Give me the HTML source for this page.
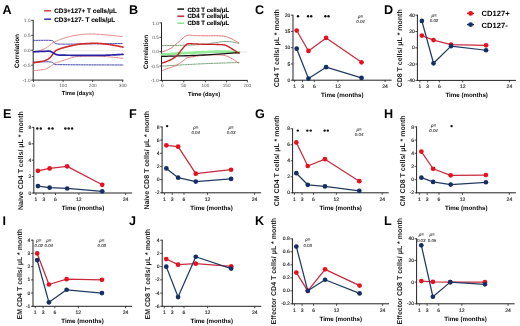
<!DOCTYPE html>
<html><head><meta charset="utf-8"><style>
html,body{margin:0;padding:0;background:#fff;width:520px;height:326px;overflow:hidden}
svg{display:block;filter:blur(0.25px)}
text{font-family:"Liberation Sans",sans-serif;text-rendering:geometricPrecision}
</style></head><body>
<svg width="520" height="326" viewBox="0 0 520 326">
<rect width="520" height="326" fill="#fff"/>
<line x1="293.00" y1="14.70" x2="293.00" y2="80.70" stroke="#222" stroke-width="1"/>
<line x1="292.50" y1="80.20" x2="391.60" y2="80.20" stroke="#222" stroke-width="1"/>
<line x1="291.00" y1="80.20" x2="293.00" y2="80.20" stroke="#222" stroke-width="0.8"/>
<text x="290.40" y="81.80" font-size="5.0" text-anchor="end" font-weight="normal" font-style="normal" fill="#262626" stroke="#262626" stroke-width="0.15">0</text>
<line x1="291.00" y1="63.95" x2="293.00" y2="63.95" stroke="#222" stroke-width="0.8"/>
<text x="290.40" y="65.55" font-size="5.0" text-anchor="end" font-weight="normal" font-style="normal" fill="#262626" stroke="#262626" stroke-width="0.15">5</text>
<line x1="291.00" y1="47.70" x2="293.00" y2="47.70" stroke="#222" stroke-width="0.8"/>
<text x="290.40" y="49.30" font-size="5.0" text-anchor="end" font-weight="normal" font-style="normal" fill="#262626" stroke="#262626" stroke-width="0.15">10</text>
<line x1="291.00" y1="31.45" x2="293.00" y2="31.45" stroke="#222" stroke-width="0.8"/>
<text x="290.40" y="33.05" font-size="5.0" text-anchor="end" font-weight="normal" font-style="normal" fill="#262626" stroke="#262626" stroke-width="0.15">15</text>
<line x1="291.00" y1="15.20" x2="293.00" y2="15.20" stroke="#222" stroke-width="0.8"/>
<text x="290.40" y="16.80" font-size="5.0" text-anchor="end" font-weight="normal" font-style="normal" fill="#262626" stroke="#262626" stroke-width="0.15">20</text>
<line x1="294.70" y1="80.20" x2="294.70" y2="82.20" stroke="#222" stroke-width="0.8"/>
<text x="294.70" y="88.20" font-size="5.0" text-anchor="middle" font-weight="normal" font-style="normal" fill="#262626" stroke="#262626" stroke-width="0.15">1</text>
<line x1="302.56" y1="80.20" x2="302.56" y2="82.20" stroke="#222" stroke-width="0.8"/>
<text x="302.56" y="88.20" font-size="5.0" text-anchor="middle" font-weight="normal" font-style="normal" fill="#262626" stroke="#262626" stroke-width="0.15">3</text>
<line x1="314.35" y1="80.20" x2="314.35" y2="82.20" stroke="#222" stroke-width="0.8"/>
<text x="314.35" y="88.20" font-size="5.0" text-anchor="middle" font-weight="normal" font-style="normal" fill="#262626" stroke="#262626" stroke-width="0.15">6</text>
<line x1="337.93" y1="80.20" x2="337.93" y2="82.20" stroke="#222" stroke-width="0.8"/>
<text x="337.93" y="88.20" font-size="5.0" text-anchor="middle" font-weight="normal" font-style="normal" fill="#262626" stroke="#262626" stroke-width="0.15">12</text>
<line x1="385.10" y1="80.20" x2="385.10" y2="82.20" stroke="#222" stroke-width="0.8"/>
<text x="385.10" y="88.20" font-size="5.0" text-anchor="middle" font-weight="normal" font-style="normal" fill="#262626" stroke="#262626" stroke-width="0.15">24</text>
<text x="342.30" y="97.20" font-size="6.2" text-anchor="middle" font-weight="bold" font-style="normal" fill="#000">Time (months)</text>
<text x="279.50" y="48.20" font-size="7.0" text-anchor="middle" font-weight="bold" font-style="normal" fill="#1e1e1e" transform="rotate(-90 279.5 48.2)">CD4 T cells/ μL * month</text>
<polyline points="296.67,30.48 308.46,50.95 326.14,37.95 361.52,62.33" fill="none" stroke="#c82a3c" stroke-width="1.25" stroke-linejoin="round" stroke-linecap="round"/>
<circle cx="296.67" cy="30.48" r="2.35" fill="#e8101f"/>
<circle cx="308.46" cy="50.95" r="2.35" fill="#e8101f"/>
<circle cx="326.14" cy="37.95" r="2.35" fill="#e8101f"/>
<circle cx="361.52" cy="62.33" r="2.35" fill="#e8101f"/>
<polyline points="296.67,48.68 308.46,78.58 326.14,67.20 361.52,77.92" fill="none" stroke="#213a64" stroke-width="1.25" stroke-linejoin="round" stroke-linecap="round"/>
<circle cx="296.67" cy="48.68" r="2.35" fill="#132f64"/>
<circle cx="308.46" cy="78.58" r="2.35" fill="#132f64"/>
<circle cx="326.14" cy="67.20" r="2.35" fill="#132f64"/>
<circle cx="361.52" cy="77.92" r="2.35" fill="#132f64"/>
<circle cx="298.00" cy="16.20" r="1.2" fill="#111"/>
<circle cx="308.10" cy="16.20" r="1.2" fill="#111"/>
<circle cx="311.20" cy="16.20" r="1.2" fill="#111"/>
<circle cx="325.40" cy="16.20" r="1.2" fill="#111"/>
<circle cx="328.50" cy="16.20" r="1.2" fill="#111"/>
<text x="360.50" y="17.50" font-size="4.4" text-anchor="middle" font-weight="normal" font-style="italic" fill="#333" stroke="#333" stroke-width="0.1">p=</text>
<text x="360.50" y="22.80" font-size="4.4" text-anchor="middle" font-weight="normal" font-style="italic" fill="#333" stroke="#333" stroke-width="0.1">0.04</text>
<text x="255.00" y="13.70" font-size="12.6" text-anchor="start" font-weight="bold" font-style="normal" fill="#000">C</text>
<line x1="417.40" y1="14.70" x2="417.40" y2="80.90" stroke="#222" stroke-width="1"/>
<line x1="416.90" y1="80.40" x2="515.90" y2="80.40" stroke="#222" stroke-width="1"/>
<line x1="415.40" y1="80.40" x2="417.40" y2="80.40" stroke="#222" stroke-width="0.8"/>
<text x="414.80" y="82.00" font-size="5.0" text-anchor="end" font-weight="normal" font-style="normal" fill="#262626" stroke="#262626" stroke-width="0.15">-40</text>
<line x1="415.40" y1="64.10" x2="417.40" y2="64.10" stroke="#222" stroke-width="0.8"/>
<text x="414.80" y="65.70" font-size="5.0" text-anchor="end" font-weight="normal" font-style="normal" fill="#262626" stroke="#262626" stroke-width="0.15">-20</text>
<line x1="415.40" y1="47.80" x2="417.40" y2="47.80" stroke="#222" stroke-width="0.8"/>
<text x="414.80" y="49.40" font-size="5.0" text-anchor="end" font-weight="normal" font-style="normal" fill="#262626" stroke="#262626" stroke-width="0.15">0</text>
<line x1="415.40" y1="31.50" x2="417.40" y2="31.50" stroke="#222" stroke-width="0.8"/>
<text x="414.80" y="33.10" font-size="5.0" text-anchor="end" font-weight="normal" font-style="normal" fill="#262626" stroke="#262626" stroke-width="0.15">20</text>
<line x1="415.40" y1="15.20" x2="417.40" y2="15.20" stroke="#222" stroke-width="0.8"/>
<text x="414.80" y="16.80" font-size="5.0" text-anchor="end" font-weight="normal" font-style="normal" fill="#262626" stroke="#262626" stroke-width="0.15">40</text>
<line x1="419.90" y1="80.40" x2="419.90" y2="82.40" stroke="#222" stroke-width="0.8"/>
<text x="419.90" y="88.40" font-size="5.0" text-anchor="middle" font-weight="normal" font-style="normal" fill="#262626" stroke="#262626" stroke-width="0.15">1</text>
<line x1="427.68" y1="80.40" x2="427.68" y2="82.40" stroke="#222" stroke-width="0.8"/>
<text x="427.68" y="88.40" font-size="5.0" text-anchor="middle" font-weight="normal" font-style="normal" fill="#262626" stroke="#262626" stroke-width="0.15">3</text>
<line x1="439.36" y1="80.40" x2="439.36" y2="82.40" stroke="#222" stroke-width="0.8"/>
<text x="439.36" y="88.40" font-size="5.0" text-anchor="middle" font-weight="normal" font-style="normal" fill="#262626" stroke="#262626" stroke-width="0.15">6</text>
<line x1="462.70" y1="80.40" x2="462.70" y2="82.40" stroke="#222" stroke-width="0.8"/>
<text x="462.70" y="88.40" font-size="5.0" text-anchor="middle" font-weight="normal" font-style="normal" fill="#262626" stroke="#262626" stroke-width="0.15">12</text>
<line x1="509.40" y1="80.40" x2="509.40" y2="82.40" stroke="#222" stroke-width="0.8"/>
<text x="509.40" y="88.40" font-size="5.0" text-anchor="middle" font-weight="normal" font-style="normal" fill="#262626" stroke="#262626" stroke-width="0.15">24</text>
<text x="466.65" y="97.40" font-size="6.2" text-anchor="middle" font-weight="bold" font-style="normal" fill="#000">Time (months)</text>
<text x="402.30" y="48.30" font-size="7.0" text-anchor="middle" font-weight="bold" font-style="normal" fill="#1e1e1e" transform="rotate(-90 402.29999999999995 48.300000000000004)">CD8 T cells/ μL * month</text>
<polyline points="421.85,35.58 433.52,40.06 451.03,44.54 486.05,45.36" fill="none" stroke="#c82a3c" stroke-width="1.25" stroke-linejoin="round" stroke-linecap="round"/>
<circle cx="421.85" cy="35.58" r="2.35" fill="#e8101f"/>
<circle cx="433.52" cy="40.06" r="2.35" fill="#e8101f"/>
<circle cx="451.03" cy="44.54" r="2.35" fill="#e8101f"/>
<circle cx="486.05" cy="45.36" r="2.35" fill="#e8101f"/>
<polyline points="421.85,20.91 433.52,63.29 451.03,46.17 486.05,50.25" fill="none" stroke="#213a64" stroke-width="1.25" stroke-linejoin="round" stroke-linecap="round"/>
<circle cx="421.85" cy="20.91" r="2.35" fill="#132f64"/>
<circle cx="433.52" cy="63.29" r="2.35" fill="#132f64"/>
<circle cx="451.03" cy="46.17" r="2.35" fill="#132f64"/>
<circle cx="486.05" cy="50.25" r="2.35" fill="#132f64"/>
<text x="434.00" y="17.00" font-size="4.4" text-anchor="middle" font-weight="normal" font-style="italic" fill="#333" stroke="#333" stroke-width="0.1">p=</text>
<text x="434.00" y="22.30" font-size="4.4" text-anchor="middle" font-weight="normal" font-style="italic" fill="#333" stroke="#333" stroke-width="0.1">0.02</text>
<text x="384.00" y="13.70" font-size="12.6" text-anchor="start" font-weight="bold" font-style="normal" fill="#000">D</text>
<line x1="33.80" y1="126.90" x2="33.80" y2="193.50" stroke="#222" stroke-width="1"/>
<line x1="33.30" y1="193.00" x2="132.10" y2="193.00" stroke="#222" stroke-width="1"/>
<line x1="31.80" y1="193.00" x2="33.80" y2="193.00" stroke="#222" stroke-width="0.8"/>
<text x="31.20" y="194.60" font-size="5.0" text-anchor="end" font-weight="normal" font-style="normal" fill="#262626" stroke="#262626" stroke-width="0.15">0</text>
<line x1="31.80" y1="176.60" x2="33.80" y2="176.60" stroke="#222" stroke-width="0.8"/>
<text x="31.20" y="178.20" font-size="5.0" text-anchor="end" font-weight="normal" font-style="normal" fill="#262626" stroke="#262626" stroke-width="0.15">2</text>
<line x1="31.80" y1="160.20" x2="33.80" y2="160.20" stroke="#222" stroke-width="0.8"/>
<text x="31.20" y="161.80" font-size="5.0" text-anchor="end" font-weight="normal" font-style="normal" fill="#262626" stroke="#262626" stroke-width="0.15">4</text>
<line x1="31.80" y1="143.80" x2="33.80" y2="143.80" stroke="#222" stroke-width="0.8"/>
<text x="31.20" y="145.40" font-size="5.0" text-anchor="end" font-weight="normal" font-style="normal" fill="#262626" stroke="#262626" stroke-width="0.15">6</text>
<line x1="31.80" y1="127.40" x2="33.80" y2="127.40" stroke="#222" stroke-width="0.8"/>
<text x="31.20" y="129.00" font-size="5.0" text-anchor="end" font-weight="normal" font-style="normal" fill="#262626" stroke="#262626" stroke-width="0.15">8</text>
<line x1="36.00" y1="193.00" x2="36.00" y2="195.00" stroke="#222" stroke-width="0.8"/>
<text x="36.00" y="201.00" font-size="5.0" text-anchor="middle" font-weight="normal" font-style="normal" fill="#262626" stroke="#262626" stroke-width="0.15">1</text>
<line x1="43.79" y1="193.00" x2="43.79" y2="195.00" stroke="#222" stroke-width="0.8"/>
<text x="43.79" y="201.00" font-size="5.0" text-anchor="middle" font-weight="normal" font-style="normal" fill="#262626" stroke="#262626" stroke-width="0.15">3</text>
<line x1="55.48" y1="193.00" x2="55.48" y2="195.00" stroke="#222" stroke-width="0.8"/>
<text x="55.48" y="201.00" font-size="5.0" text-anchor="middle" font-weight="normal" font-style="normal" fill="#262626" stroke="#262626" stroke-width="0.15">6</text>
<line x1="78.85" y1="193.00" x2="78.85" y2="195.00" stroke="#222" stroke-width="0.8"/>
<text x="78.85" y="201.00" font-size="5.0" text-anchor="middle" font-weight="normal" font-style="normal" fill="#262626" stroke="#262626" stroke-width="0.15">12</text>
<line x1="125.60" y1="193.00" x2="125.60" y2="195.00" stroke="#222" stroke-width="0.8"/>
<text x="125.60" y="201.00" font-size="5.0" text-anchor="middle" font-weight="normal" font-style="normal" fill="#262626" stroke="#262626" stroke-width="0.15">24</text>
<text x="82.95" y="210.00" font-size="6.2" text-anchor="middle" font-weight="bold" font-style="normal" fill="#000">Time (months)</text>
<text x="23.30" y="160.60" font-size="7.0" text-anchor="middle" font-weight="bold" font-style="normal" fill="#1e1e1e" transform="rotate(-90 23.299999999999997 160.6)">Naive CD4 T cells/ μL * month</text>
<polyline points="37.95,170.86 49.63,168.40 67.17,166.35 102.23,184.80" fill="none" stroke="#c82a3c" stroke-width="1.25" stroke-linejoin="round" stroke-linecap="round"/>
<circle cx="37.95" cy="170.86" r="2.35" fill="#e8101f"/>
<circle cx="49.63" cy="168.40" r="2.35" fill="#e8101f"/>
<circle cx="67.17" cy="166.35" r="2.35" fill="#e8101f"/>
<circle cx="102.23" cy="184.80" r="2.35" fill="#e8101f"/>
<polyline points="37.95,186.03 49.63,187.67 67.17,188.49 102.23,191.36" fill="none" stroke="#213a64" stroke-width="1.25" stroke-linejoin="round" stroke-linecap="round"/>
<circle cx="37.95" cy="186.03" r="2.35" fill="#132f64"/>
<circle cx="49.63" cy="187.67" r="2.35" fill="#132f64"/>
<circle cx="67.17" cy="188.49" r="2.35" fill="#132f64"/>
<circle cx="102.23" cy="191.36" r="2.35" fill="#132f64"/>
<circle cx="37.30" cy="128.50" r="1.2" fill="#111"/>
<circle cx="40.80" cy="128.50" r="1.2" fill="#111"/>
<circle cx="49.00" cy="128.50" r="1.2" fill="#111"/>
<circle cx="52.50" cy="128.50" r="1.2" fill="#111"/>
<circle cx="65.40" cy="128.50" r="1.2" fill="#111"/>
<circle cx="68.70" cy="128.50" r="1.2" fill="#111"/>
<circle cx="72.10" cy="128.50" r="1.2" fill="#111"/>
<text x="3.00" y="118.40" font-size="12.6" text-anchor="start" font-weight="bold" font-style="normal" fill="#000">E</text>
<line x1="162.10" y1="126.40" x2="162.10" y2="193.30" stroke="#222" stroke-width="1"/>
<line x1="161.60" y1="192.80" x2="261.10" y2="192.80" stroke="#222" stroke-width="1"/>
<line x1="160.10" y1="192.80" x2="162.10" y2="192.80" stroke="#222" stroke-width="0.8"/>
<text x="159.50" y="194.40" font-size="5.0" text-anchor="end" font-weight="normal" font-style="normal" fill="#262626" stroke="#262626" stroke-width="0.15">-2</text>
<line x1="160.10" y1="179.62" x2="162.10" y2="179.62" stroke="#222" stroke-width="0.8"/>
<text x="159.50" y="181.22" font-size="5.0" text-anchor="end" font-weight="normal" font-style="normal" fill="#262626" stroke="#262626" stroke-width="0.15">0</text>
<line x1="160.10" y1="166.44" x2="162.10" y2="166.44" stroke="#222" stroke-width="0.8"/>
<text x="159.50" y="168.04" font-size="5.0" text-anchor="end" font-weight="normal" font-style="normal" fill="#262626" stroke="#262626" stroke-width="0.15">2</text>
<line x1="160.10" y1="153.26" x2="162.10" y2="153.26" stroke="#222" stroke-width="0.8"/>
<text x="159.50" y="154.86" font-size="5.0" text-anchor="end" font-weight="normal" font-style="normal" fill="#262626" stroke="#262626" stroke-width="0.15">4</text>
<line x1="160.10" y1="140.08" x2="162.10" y2="140.08" stroke="#222" stroke-width="0.8"/>
<text x="159.50" y="141.68" font-size="5.0" text-anchor="end" font-weight="normal" font-style="normal" fill="#262626" stroke="#262626" stroke-width="0.15">6</text>
<line x1="160.10" y1="126.90" x2="162.10" y2="126.90" stroke="#222" stroke-width="0.8"/>
<text x="159.50" y="128.50" font-size="5.0" text-anchor="end" font-weight="normal" font-style="normal" fill="#262626" stroke="#262626" stroke-width="0.15">8</text>
<line x1="164.40" y1="192.80" x2="164.40" y2="194.80" stroke="#222" stroke-width="0.8"/>
<text x="164.40" y="200.80" font-size="5.0" text-anchor="middle" font-weight="normal" font-style="normal" fill="#262626" stroke="#262626" stroke-width="0.15">1</text>
<line x1="172.24" y1="192.80" x2="172.24" y2="194.80" stroke="#222" stroke-width="0.8"/>
<text x="172.24" y="200.80" font-size="5.0" text-anchor="middle" font-weight="normal" font-style="normal" fill="#262626" stroke="#262626" stroke-width="0.15">3</text>
<line x1="184.01" y1="192.80" x2="184.01" y2="194.80" stroke="#222" stroke-width="0.8"/>
<text x="184.01" y="200.80" font-size="5.0" text-anchor="middle" font-weight="normal" font-style="normal" fill="#262626" stroke="#262626" stroke-width="0.15">6</text>
<line x1="207.54" y1="192.80" x2="207.54" y2="194.80" stroke="#222" stroke-width="0.8"/>
<text x="207.54" y="200.80" font-size="5.0" text-anchor="middle" font-weight="normal" font-style="normal" fill="#262626" stroke="#262626" stroke-width="0.15">12</text>
<line x1="254.60" y1="192.80" x2="254.60" y2="194.80" stroke="#222" stroke-width="0.8"/>
<text x="254.60" y="200.80" font-size="5.0" text-anchor="middle" font-weight="normal" font-style="normal" fill="#262626" stroke="#262626" stroke-width="0.15">24</text>
<text x="211.60" y="209.80" font-size="6.2" text-anchor="middle" font-weight="bold" font-style="normal" fill="#000">Time (months)</text>
<text x="148.80" y="160.25" font-size="7.0" text-anchor="middle" font-weight="bold" font-style="normal" fill="#1e1e1e" transform="rotate(-90 148.79999999999998 160.25000000000003)">Naive CD8 T cells/ μL * month</text>
<polyline points="166.36,145.35 178.13,146.67 195.77,173.69 231.07,169.74" fill="none" stroke="#c82a3c" stroke-width="1.25" stroke-linejoin="round" stroke-linecap="round"/>
<circle cx="166.36" cy="145.35" r="2.35" fill="#e8101f"/>
<circle cx="178.13" cy="146.67" r="2.35" fill="#e8101f"/>
<circle cx="195.77" cy="173.69" r="2.35" fill="#e8101f"/>
<circle cx="231.07" cy="169.74" r="2.35" fill="#e8101f"/>
<polyline points="166.36,168.42 178.13,177.64 195.77,181.60 231.07,178.96" fill="none" stroke="#213a64" stroke-width="1.25" stroke-linejoin="round" stroke-linecap="round"/>
<circle cx="166.36" cy="168.42" r="2.35" fill="#132f64"/>
<circle cx="178.13" cy="177.64" r="2.35" fill="#132f64"/>
<circle cx="195.77" cy="181.60" r="2.35" fill="#132f64"/>
<circle cx="231.07" cy="178.96" r="2.35" fill="#132f64"/>
<circle cx="167.10" cy="126.10" r="1.2" fill="#111"/>
<text x="195.70" y="128.50" font-size="4.4" text-anchor="middle" font-weight="normal" font-style="italic" fill="#333" stroke="#333" stroke-width="0.1">p=</text>
<text x="195.70" y="133.80" font-size="4.4" text-anchor="middle" font-weight="normal" font-style="italic" fill="#333" stroke="#333" stroke-width="0.1">0.04</text>
<text x="231.10" y="128.50" font-size="4.4" text-anchor="middle" font-weight="normal" font-style="italic" fill="#333" stroke="#333" stroke-width="0.1">p=</text>
<text x="231.10" y="133.80" font-size="4.4" text-anchor="middle" font-weight="normal" font-style="italic" fill="#333" stroke="#333" stroke-width="0.1">0.03</text>
<text x="129.00" y="118.10" font-size="12.6" text-anchor="start" font-weight="bold" font-style="normal" fill="#000">F</text>
<line x1="292.60" y1="128.30" x2="292.60" y2="193.30" stroke="#222" stroke-width="1"/>
<line x1="292.10" y1="192.80" x2="388.70" y2="192.80" stroke="#222" stroke-width="1"/>
<line x1="290.60" y1="192.80" x2="292.60" y2="192.80" stroke="#222" stroke-width="0.8"/>
<text x="290.00" y="194.40" font-size="5.0" text-anchor="end" font-weight="normal" font-style="normal" fill="#262626" stroke="#262626" stroke-width="0.15">0</text>
<line x1="290.60" y1="176.80" x2="292.60" y2="176.80" stroke="#222" stroke-width="0.8"/>
<text x="290.00" y="178.40" font-size="5.0" text-anchor="end" font-weight="normal" font-style="normal" fill="#262626" stroke="#262626" stroke-width="0.15">2</text>
<line x1="290.60" y1="160.80" x2="292.60" y2="160.80" stroke="#222" stroke-width="0.8"/>
<text x="290.00" y="162.40" font-size="5.0" text-anchor="end" font-weight="normal" font-style="normal" fill="#262626" stroke="#262626" stroke-width="0.15">4</text>
<line x1="290.60" y1="144.80" x2="292.60" y2="144.80" stroke="#222" stroke-width="0.8"/>
<text x="290.00" y="146.40" font-size="5.0" text-anchor="end" font-weight="normal" font-style="normal" fill="#262626" stroke="#262626" stroke-width="0.15">6</text>
<line x1="290.60" y1="128.80" x2="292.60" y2="128.80" stroke="#222" stroke-width="0.8"/>
<text x="290.00" y="130.40" font-size="5.0" text-anchor="end" font-weight="normal" font-style="normal" fill="#262626" stroke="#262626" stroke-width="0.15">8</text>
<line x1="294.40" y1="192.80" x2="294.40" y2="194.80" stroke="#222" stroke-width="0.8"/>
<text x="294.40" y="200.80" font-size="5.0" text-anchor="middle" font-weight="normal" font-style="normal" fill="#262626" stroke="#262626" stroke-width="0.15">1</text>
<line x1="302.03" y1="192.80" x2="302.03" y2="194.80" stroke="#222" stroke-width="0.8"/>
<text x="302.03" y="200.80" font-size="5.0" text-anchor="middle" font-weight="normal" font-style="normal" fill="#262626" stroke="#262626" stroke-width="0.15">3</text>
<line x1="313.49" y1="192.80" x2="313.49" y2="194.80" stroke="#222" stroke-width="0.8"/>
<text x="313.49" y="200.80" font-size="5.0" text-anchor="middle" font-weight="normal" font-style="normal" fill="#262626" stroke="#262626" stroke-width="0.15">6</text>
<line x1="336.39" y1="192.80" x2="336.39" y2="194.80" stroke="#222" stroke-width="0.8"/>
<text x="336.39" y="200.80" font-size="5.0" text-anchor="middle" font-weight="normal" font-style="normal" fill="#262626" stroke="#262626" stroke-width="0.15">12</text>
<line x1="382.20" y1="192.80" x2="382.20" y2="194.80" stroke="#222" stroke-width="0.8"/>
<text x="382.20" y="200.80" font-size="5.0" text-anchor="middle" font-weight="normal" font-style="normal" fill="#262626" stroke="#262626" stroke-width="0.15">24</text>
<text x="340.65" y="209.80" font-size="6.2" text-anchor="middle" font-weight="bold" font-style="normal" fill="#000">Time (months)</text>
<text x="279.10" y="160.80" font-size="7.0" text-anchor="middle" font-weight="bold" font-style="normal" fill="#1e1e1e" transform="rotate(-90 279.1 160.8)">CM CD4 T cells/ μL * month</text>
<polyline points="296.31,142.40 307.76,166.00 324.94,159.20 359.30,181.20" fill="none" stroke="#c82a3c" stroke-width="1.25" stroke-linejoin="round" stroke-linecap="round"/>
<circle cx="296.31" cy="142.40" r="2.35" fill="#e8101f"/>
<circle cx="307.76" cy="166.00" r="2.35" fill="#e8101f"/>
<circle cx="324.94" cy="159.20" r="2.35" fill="#e8101f"/>
<circle cx="359.30" cy="181.20" r="2.35" fill="#e8101f"/>
<polyline points="296.31,173.20 307.76,184.80 324.94,186.40 359.30,190.80" fill="none" stroke="#213a64" stroke-width="1.25" stroke-linejoin="round" stroke-linecap="round"/>
<circle cx="296.31" cy="173.20" r="2.35" fill="#132f64"/>
<circle cx="307.76" cy="184.80" r="2.35" fill="#132f64"/>
<circle cx="324.94" cy="186.40" r="2.35" fill="#132f64"/>
<circle cx="359.30" cy="190.80" r="2.35" fill="#132f64"/>
<circle cx="297.80" cy="130.60" r="1.2" fill="#111"/>
<circle cx="307.30" cy="130.60" r="1.2" fill="#111"/>
<circle cx="310.70" cy="130.60" r="1.2" fill="#111"/>
<circle cx="324.60" cy="130.60" r="1.2" fill="#111"/>
<circle cx="327.80" cy="130.60" r="1.2" fill="#111"/>
<text x="359.10" y="130.80" font-size="4.4" text-anchor="middle" font-weight="normal" font-style="italic" fill="#333" stroke="#333" stroke-width="0.1">p=</text>
<text x="359.10" y="136.10" font-size="4.4" text-anchor="middle" font-weight="normal" font-style="italic" fill="#333" stroke="#333" stroke-width="0.1">0.04</text>
<text x="255.00" y="118.40" font-size="12.6" text-anchor="start" font-weight="bold" font-style="normal" fill="#000">G</text>
<line x1="416.60" y1="126.40" x2="416.60" y2="193.30" stroke="#222" stroke-width="1"/>
<line x1="416.10" y1="192.80" x2="515.90" y2="192.80" stroke="#222" stroke-width="1"/>
<line x1="414.60" y1="192.80" x2="416.60" y2="192.80" stroke="#222" stroke-width="0.8"/>
<text x="414.00" y="194.40" font-size="5.0" text-anchor="end" font-weight="normal" font-style="normal" fill="#262626" stroke="#262626" stroke-width="0.15">-2</text>
<line x1="414.60" y1="179.62" x2="416.60" y2="179.62" stroke="#222" stroke-width="0.8"/>
<text x="414.00" y="181.22" font-size="5.0" text-anchor="end" font-weight="normal" font-style="normal" fill="#262626" stroke="#262626" stroke-width="0.15">0</text>
<line x1="414.60" y1="166.44" x2="416.60" y2="166.44" stroke="#222" stroke-width="0.8"/>
<text x="414.00" y="168.04" font-size="5.0" text-anchor="end" font-weight="normal" font-style="normal" fill="#262626" stroke="#262626" stroke-width="0.15">2</text>
<line x1="414.60" y1="153.26" x2="416.60" y2="153.26" stroke="#222" stroke-width="0.8"/>
<text x="414.00" y="154.86" font-size="5.0" text-anchor="end" font-weight="normal" font-style="normal" fill="#262626" stroke="#262626" stroke-width="0.15">4</text>
<line x1="414.60" y1="140.08" x2="416.60" y2="140.08" stroke="#222" stroke-width="0.8"/>
<text x="414.00" y="141.68" font-size="5.0" text-anchor="end" font-weight="normal" font-style="normal" fill="#262626" stroke="#262626" stroke-width="0.15">6</text>
<line x1="414.60" y1="126.90" x2="416.60" y2="126.90" stroke="#222" stroke-width="0.8"/>
<text x="414.00" y="128.50" font-size="5.0" text-anchor="end" font-weight="normal" font-style="normal" fill="#262626" stroke="#262626" stroke-width="0.15">8</text>
<line x1="419.40" y1="192.80" x2="419.40" y2="194.80" stroke="#222" stroke-width="0.8"/>
<text x="419.40" y="200.80" font-size="5.0" text-anchor="middle" font-weight="normal" font-style="normal" fill="#262626" stroke="#262626" stroke-width="0.15">1</text>
<line x1="427.23" y1="192.80" x2="427.23" y2="194.80" stroke="#222" stroke-width="0.8"/>
<text x="427.23" y="200.80" font-size="5.0" text-anchor="middle" font-weight="normal" font-style="normal" fill="#262626" stroke="#262626" stroke-width="0.15">3</text>
<line x1="438.97" y1="192.80" x2="438.97" y2="194.80" stroke="#222" stroke-width="0.8"/>
<text x="438.97" y="200.80" font-size="5.0" text-anchor="middle" font-weight="normal" font-style="normal" fill="#262626" stroke="#262626" stroke-width="0.15">6</text>
<line x1="462.44" y1="192.80" x2="462.44" y2="194.80" stroke="#222" stroke-width="0.8"/>
<text x="462.44" y="200.80" font-size="5.0" text-anchor="middle" font-weight="normal" font-style="normal" fill="#262626" stroke="#262626" stroke-width="0.15">12</text>
<line x1="509.40" y1="192.80" x2="509.40" y2="194.80" stroke="#222" stroke-width="0.8"/>
<text x="509.40" y="200.80" font-size="5.0" text-anchor="middle" font-weight="normal" font-style="normal" fill="#262626" stroke="#262626" stroke-width="0.15">24</text>
<text x="466.25" y="209.80" font-size="6.2" text-anchor="middle" font-weight="bold" font-style="normal" fill="#000">Time (months)</text>
<text x="405.20" y="160.80" font-size="7.0" text-anchor="middle" font-weight="bold" font-style="normal" fill="#1e1e1e" transform="rotate(-90 405.20000000000005 160.8)">CM CD8 T cells/ μL * month</text>
<polyline points="421.36,151.61 433.10,168.75 450.70,175.34 485.92,175.01" fill="none" stroke="#c82a3c" stroke-width="1.25" stroke-linejoin="round" stroke-linecap="round"/>
<circle cx="421.36" cy="151.61" r="2.35" fill="#e8101f"/>
<circle cx="433.10" cy="168.75" r="2.35" fill="#e8101f"/>
<circle cx="450.70" cy="175.34" r="2.35" fill="#e8101f"/>
<circle cx="485.92" cy="175.01" r="2.35" fill="#e8101f"/>
<polyline points="421.36,177.64 433.10,181.93 450.70,184.56 485.92,182.26" fill="none" stroke="#213a64" stroke-width="1.25" stroke-linejoin="round" stroke-linecap="round"/>
<circle cx="421.36" cy="177.64" r="2.35" fill="#132f64"/>
<circle cx="433.10" cy="181.93" r="2.35" fill="#132f64"/>
<circle cx="450.70" cy="184.56" r="2.35" fill="#132f64"/>
<circle cx="485.92" cy="182.26" r="2.35" fill="#132f64"/>
<text x="433.50" y="127.00" font-size="4.4" text-anchor="middle" font-weight="normal" font-style="italic" fill="#333" stroke="#333" stroke-width="0.1">p=</text>
<text x="433.50" y="132.30" font-size="4.4" text-anchor="middle" font-weight="normal" font-style="italic" fill="#333" stroke="#333" stroke-width="0.1">0.04</text>
<circle cx="451.60" cy="126.10" r="1.2" fill="#111"/>
<text x="384.00" y="118.00" font-size="12.6" text-anchor="start" font-weight="bold" font-style="normal" fill="#000">H</text>
<line x1="33.00" y1="239.70" x2="33.00" y2="306.80" stroke="#222" stroke-width="1"/>
<line x1="32.50" y1="306.30" x2="132.00" y2="306.30" stroke="#222" stroke-width="1"/>
<line x1="31.00" y1="306.30" x2="33.00" y2="306.30" stroke="#222" stroke-width="0.8"/>
<text x="30.40" y="307.90" font-size="5.0" text-anchor="end" font-weight="normal" font-style="normal" fill="#262626" stroke="#262626" stroke-width="0.15">-1</text>
<line x1="31.00" y1="293.08" x2="33.00" y2="293.08" stroke="#222" stroke-width="0.8"/>
<text x="30.40" y="294.68" font-size="5.0" text-anchor="end" font-weight="normal" font-style="normal" fill="#262626" stroke="#262626" stroke-width="0.15">0</text>
<line x1="31.00" y1="279.86" x2="33.00" y2="279.86" stroke="#222" stroke-width="0.8"/>
<text x="30.40" y="281.46" font-size="5.0" text-anchor="end" font-weight="normal" font-style="normal" fill="#262626" stroke="#262626" stroke-width="0.15">1</text>
<line x1="31.00" y1="266.64" x2="33.00" y2="266.64" stroke="#222" stroke-width="0.8"/>
<text x="30.40" y="268.24" font-size="5.0" text-anchor="end" font-weight="normal" font-style="normal" fill="#262626" stroke="#262626" stroke-width="0.15">2</text>
<line x1="31.00" y1="253.42" x2="33.00" y2="253.42" stroke="#222" stroke-width="0.8"/>
<text x="30.40" y="255.02" font-size="5.0" text-anchor="end" font-weight="normal" font-style="normal" fill="#262626" stroke="#262626" stroke-width="0.15">3</text>
<line x1="31.00" y1="240.20" x2="33.00" y2="240.20" stroke="#222" stroke-width="0.8"/>
<text x="30.40" y="241.80" font-size="5.0" text-anchor="end" font-weight="normal" font-style="normal" fill="#262626" stroke="#262626" stroke-width="0.15">4</text>
<line x1="35.20" y1="306.30" x2="35.20" y2="308.30" stroke="#222" stroke-width="0.8"/>
<text x="35.20" y="314.30" font-size="5.0" text-anchor="middle" font-weight="normal" font-style="normal" fill="#262626" stroke="#262626" stroke-width="0.15">1</text>
<line x1="43.05" y1="306.30" x2="43.05" y2="308.30" stroke="#222" stroke-width="0.8"/>
<text x="43.05" y="314.30" font-size="5.0" text-anchor="middle" font-weight="normal" font-style="normal" fill="#262626" stroke="#262626" stroke-width="0.15">3</text>
<line x1="54.83" y1="306.30" x2="54.83" y2="308.30" stroke="#222" stroke-width="0.8"/>
<text x="54.83" y="314.30" font-size="5.0" text-anchor="middle" font-weight="normal" font-style="normal" fill="#262626" stroke="#262626" stroke-width="0.15">6</text>
<line x1="78.39" y1="306.30" x2="78.39" y2="308.30" stroke="#222" stroke-width="0.8"/>
<text x="78.39" y="314.30" font-size="5.0" text-anchor="middle" font-weight="normal" font-style="normal" fill="#262626" stroke="#262626" stroke-width="0.15">12</text>
<line x1="125.50" y1="306.30" x2="125.50" y2="308.30" stroke="#222" stroke-width="0.8"/>
<text x="125.50" y="314.30" font-size="5.0" text-anchor="middle" font-weight="normal" font-style="normal" fill="#262626" stroke="#262626" stroke-width="0.15">24</text>
<text x="82.50" y="323.30" font-size="6.2" text-anchor="middle" font-weight="bold" font-style="normal" fill="#000">Time (months)</text>
<text x="21.70" y="274.20" font-size="7.0" text-anchor="middle" font-weight="bold" font-style="normal" fill="#1e1e1e" transform="rotate(-90 21.7 274.2)">EM CD4 T cells/ μL * month</text>
<polyline points="37.16,253.42 48.94,284.49 66.61,279.20 101.94,279.86" fill="none" stroke="#c82a3c" stroke-width="1.25" stroke-linejoin="round" stroke-linecap="round"/>
<circle cx="37.16" cy="253.42" r="2.35" fill="#e8101f"/>
<circle cx="48.94" cy="284.49" r="2.35" fill="#e8101f"/>
<circle cx="66.61" cy="279.20" r="2.35" fill="#e8101f"/>
<circle cx="101.94" cy="279.86" r="2.35" fill="#e8101f"/>
<polyline points="37.16,260.03 48.94,302.33 66.61,289.77 101.94,293.08" fill="none" stroke="#213a64" stroke-width="1.25" stroke-linejoin="round" stroke-linecap="round"/>
<circle cx="37.16" cy="260.03" r="2.35" fill="#132f64"/>
<circle cx="48.94" cy="302.33" r="2.35" fill="#132f64"/>
<circle cx="66.61" cy="289.77" r="2.35" fill="#132f64"/>
<circle cx="101.94" cy="293.08" r="2.35" fill="#132f64"/>
<text x="38.80" y="241.80" font-size="4.4" text-anchor="middle" font-weight="normal" font-style="italic" fill="#333" stroke="#333" stroke-width="0.1">p=</text>
<text x="38.80" y="247.10" font-size="4.4" text-anchor="middle" font-weight="normal" font-style="italic" fill="#333" stroke="#333" stroke-width="0.1">0.02</text>
<text x="48.80" y="241.80" font-size="4.4" text-anchor="middle" font-weight="normal" font-style="italic" fill="#333" stroke="#333" stroke-width="0.1">p=</text>
<text x="48.80" y="247.10" font-size="4.4" text-anchor="middle" font-weight="normal" font-style="italic" fill="#333" stroke="#333" stroke-width="0.1">0.04</text>
<text x="101.80" y="241.80" font-size="4.4" text-anchor="middle" font-weight="normal" font-style="italic" fill="#333" stroke="#333" stroke-width="0.1">p=</text>
<text x="101.80" y="247.10" font-size="4.4" text-anchor="middle" font-weight="normal" font-style="italic" fill="#333" stroke="#333" stroke-width="0.1">0.03</text>
<text x="2.50" y="224.60" font-size="12.6" text-anchor="start" font-weight="bold" font-style="normal" fill="#000">I</text>
<line x1="162.20" y1="239.70" x2="162.20" y2="306.80" stroke="#222" stroke-width="1"/>
<line x1="161.70" y1="306.30" x2="261.30" y2="306.30" stroke="#222" stroke-width="1"/>
<line x1="160.20" y1="306.30" x2="162.20" y2="306.30" stroke="#222" stroke-width="0.8"/>
<text x="159.60" y="307.90" font-size="5.0" text-anchor="end" font-weight="normal" font-style="normal" fill="#262626" stroke="#262626" stroke-width="0.15">-6</text>
<line x1="160.20" y1="293.08" x2="162.20" y2="293.08" stroke="#222" stroke-width="0.8"/>
<text x="159.60" y="294.68" font-size="5.0" text-anchor="end" font-weight="normal" font-style="normal" fill="#262626" stroke="#262626" stroke-width="0.15">-4</text>
<line x1="160.20" y1="279.86" x2="162.20" y2="279.86" stroke="#222" stroke-width="0.8"/>
<text x="159.60" y="281.46" font-size="5.0" text-anchor="end" font-weight="normal" font-style="normal" fill="#262626" stroke="#262626" stroke-width="0.15">-2</text>
<line x1="160.20" y1="266.64" x2="162.20" y2="266.64" stroke="#222" stroke-width="0.8"/>
<text x="159.60" y="268.24" font-size="5.0" text-anchor="end" font-weight="normal" font-style="normal" fill="#262626" stroke="#262626" stroke-width="0.15">0</text>
<line x1="160.20" y1="253.42" x2="162.20" y2="253.42" stroke="#222" stroke-width="0.8"/>
<text x="159.60" y="255.02" font-size="5.0" text-anchor="end" font-weight="normal" font-style="normal" fill="#262626" stroke="#262626" stroke-width="0.15">2</text>
<line x1="160.20" y1="240.20" x2="162.20" y2="240.20" stroke="#222" stroke-width="0.8"/>
<text x="159.60" y="241.80" font-size="5.0" text-anchor="end" font-weight="normal" font-style="normal" fill="#262626" stroke="#262626" stroke-width="0.15">4</text>
<line x1="164.30" y1="306.30" x2="164.30" y2="308.30" stroke="#222" stroke-width="0.8"/>
<text x="164.30" y="314.30" font-size="5.0" text-anchor="middle" font-weight="normal" font-style="normal" fill="#262626" stroke="#262626" stroke-width="0.15">1</text>
<line x1="172.17" y1="306.30" x2="172.17" y2="308.30" stroke="#222" stroke-width="0.8"/>
<text x="172.17" y="314.30" font-size="5.0" text-anchor="middle" font-weight="normal" font-style="normal" fill="#262626" stroke="#262626" stroke-width="0.15">3</text>
<line x1="183.97" y1="306.30" x2="183.97" y2="308.30" stroke="#222" stroke-width="0.8"/>
<text x="183.97" y="314.30" font-size="5.0" text-anchor="middle" font-weight="normal" font-style="normal" fill="#262626" stroke="#262626" stroke-width="0.15">6</text>
<line x1="207.58" y1="306.30" x2="207.58" y2="308.30" stroke="#222" stroke-width="0.8"/>
<text x="207.58" y="314.30" font-size="5.0" text-anchor="middle" font-weight="normal" font-style="normal" fill="#262626" stroke="#262626" stroke-width="0.15">12</text>
<line x1="254.80" y1="306.30" x2="254.80" y2="308.30" stroke="#222" stroke-width="0.8"/>
<text x="254.80" y="314.30" font-size="5.0" text-anchor="middle" font-weight="normal" font-style="normal" fill="#262626" stroke="#262626" stroke-width="0.15">24</text>
<text x="211.75" y="323.30" font-size="6.2" text-anchor="middle" font-weight="bold" font-style="normal" fill="#000">Time (months)</text>
<text x="149.60" y="274.20" font-size="7.0" text-anchor="middle" font-weight="bold" font-style="normal" fill="#1e1e1e" transform="rotate(-90 149.6 274.2)">EM CD8 T cells/ μL * month</text>
<polyline points="166.27,259.04 178.07,264.66 195.78,263.67 231.19,266.31" fill="none" stroke="#c82a3c" stroke-width="1.25" stroke-linejoin="round" stroke-linecap="round"/>
<circle cx="166.27" cy="259.04" r="2.35" fill="#e8101f"/>
<circle cx="178.07" cy="264.66" r="2.35" fill="#e8101f"/>
<circle cx="195.78" cy="263.67" r="2.35" fill="#e8101f"/>
<circle cx="231.19" cy="266.31" r="2.35" fill="#e8101f"/>
<polyline points="166.27,266.64 178.07,297.05 195.78,256.73 231.19,268.62" fill="none" stroke="#213a64" stroke-width="1.25" stroke-linejoin="round" stroke-linecap="round"/>
<circle cx="166.27" cy="266.64" r="2.35" fill="#132f64"/>
<circle cx="178.07" cy="297.05" r="2.35" fill="#132f64"/>
<circle cx="195.78" cy="256.73" r="2.35" fill="#132f64"/>
<circle cx="231.19" cy="268.62" r="2.35" fill="#132f64"/>
<text x="129.00" y="224.60" font-size="12.6" text-anchor="start" font-weight="bold" font-style="normal" fill="#000">J</text>
<line x1="292.40" y1="238.30" x2="292.40" y2="304.30" stroke="#222" stroke-width="1"/>
<line x1="291.90" y1="303.80" x2="389.10" y2="303.80" stroke="#222" stroke-width="1"/>
<line x1="290.40" y1="303.80" x2="292.40" y2="303.80" stroke="#222" stroke-width="0.8"/>
<text x="289.80" y="305.40" font-size="5.0" text-anchor="end" font-weight="normal" font-style="normal" fill="#262626" stroke="#262626" stroke-width="0.15">-0.2</text>
<line x1="290.40" y1="290.80" x2="292.40" y2="290.80" stroke="#222" stroke-width="0.8"/>
<text x="289.80" y="292.40" font-size="5.0" text-anchor="end" font-weight="normal" font-style="normal" fill="#262626" stroke="#262626" stroke-width="0.15">0.0</text>
<line x1="290.40" y1="277.80" x2="292.40" y2="277.80" stroke="#222" stroke-width="0.8"/>
<text x="289.80" y="279.40" font-size="5.0" text-anchor="end" font-weight="normal" font-style="normal" fill="#262626" stroke="#262626" stroke-width="0.15">0.2</text>
<line x1="290.40" y1="264.80" x2="292.40" y2="264.80" stroke="#222" stroke-width="0.8"/>
<text x="289.80" y="266.40" font-size="5.0" text-anchor="end" font-weight="normal" font-style="normal" fill="#262626" stroke="#262626" stroke-width="0.15">0.4</text>
<line x1="290.40" y1="251.80" x2="292.40" y2="251.80" stroke="#222" stroke-width="0.8"/>
<text x="289.80" y="253.40" font-size="5.0" text-anchor="end" font-weight="normal" font-style="normal" fill="#262626" stroke="#262626" stroke-width="0.15">0.6</text>
<line x1="290.40" y1="238.80" x2="292.40" y2="238.80" stroke="#222" stroke-width="0.8"/>
<text x="289.80" y="240.40" font-size="5.0" text-anchor="end" font-weight="normal" font-style="normal" fill="#262626" stroke="#262626" stroke-width="0.15">0.8</text>
<line x1="294.40" y1="303.80" x2="294.40" y2="305.80" stroke="#222" stroke-width="0.8"/>
<text x="294.40" y="311.80" font-size="5.0" text-anchor="middle" font-weight="normal" font-style="normal" fill="#262626" stroke="#262626" stroke-width="0.15">1</text>
<line x1="302.07" y1="303.80" x2="302.07" y2="305.80" stroke="#222" stroke-width="0.8"/>
<text x="302.07" y="311.80" font-size="5.0" text-anchor="middle" font-weight="normal" font-style="normal" fill="#262626" stroke="#262626" stroke-width="0.15">3</text>
<line x1="313.57" y1="303.80" x2="313.57" y2="305.80" stroke="#222" stroke-width="0.8"/>
<text x="313.57" y="311.80" font-size="5.0" text-anchor="middle" font-weight="normal" font-style="normal" fill="#262626" stroke="#262626" stroke-width="0.15">6</text>
<line x1="336.58" y1="303.80" x2="336.58" y2="305.80" stroke="#222" stroke-width="0.8"/>
<text x="336.58" y="311.80" font-size="5.0" text-anchor="middle" font-weight="normal" font-style="normal" fill="#262626" stroke="#262626" stroke-width="0.15">12</text>
<line x1="382.60" y1="303.80" x2="382.60" y2="305.80" stroke="#222" stroke-width="0.8"/>
<text x="382.60" y="311.80" font-size="5.0" text-anchor="middle" font-weight="normal" font-style="normal" fill="#262626" stroke="#262626" stroke-width="0.15">24</text>
<text x="340.75" y="320.80" font-size="6.2" text-anchor="middle" font-weight="bold" font-style="normal" fill="#000">Time (months)</text>
<text x="275.90" y="271.15" font-size="7.0" text-anchor="middle" font-weight="bold" font-style="normal" fill="#1e1e1e" transform="rotate(-90 275.9 271.15000000000003)">Effector CD4 T cells/ μL * month</text>
<polyline points="296.32,272.60 307.82,290.80 325.08,269.35 359.59,285.60" fill="none" stroke="#c82a3c" stroke-width="1.25" stroke-linejoin="round" stroke-linecap="round"/>
<circle cx="296.32" cy="272.60" r="2.35" fill="#e8101f"/>
<circle cx="307.82" cy="290.80" r="2.35" fill="#e8101f"/>
<circle cx="325.08" cy="269.35" r="2.35" fill="#e8101f"/>
<circle cx="359.59" cy="285.60" r="2.35" fill="#e8101f"/>
<polyline points="296.32,246.60 307.82,290.80 325.08,279.75 359.59,293.40" fill="none" stroke="#213a64" stroke-width="1.25" stroke-linejoin="round" stroke-linecap="round"/>
<circle cx="296.32" cy="246.60" r="2.35" fill="#132f64"/>
<circle cx="307.82" cy="290.80" r="2.35" fill="#132f64"/>
<circle cx="325.08" cy="279.75" r="2.35" fill="#132f64"/>
<circle cx="359.59" cy="293.40" r="2.35" fill="#132f64"/>
<text x="307.70" y="241.30" font-size="4.4" text-anchor="middle" font-weight="normal" font-style="italic" fill="#333" stroke="#333" stroke-width="0.1">p=</text>
<text x="307.70" y="246.60" font-size="4.4" text-anchor="middle" font-weight="normal" font-style="italic" fill="#333" stroke="#333" stroke-width="0.1">0.03</text>
<text x="255.00" y="224.60" font-size="12.6" text-anchor="start" font-weight="bold" font-style="normal" fill="#000">K</text>
<line x1="416.60" y1="238.30" x2="416.60" y2="304.30" stroke="#222" stroke-width="1"/>
<line x1="416.10" y1="303.80" x2="514.60" y2="303.80" stroke="#222" stroke-width="1"/>
<line x1="414.60" y1="303.80" x2="416.60" y2="303.80" stroke="#222" stroke-width="0.8"/>
<text x="414.00" y="305.40" font-size="5.0" text-anchor="end" font-weight="normal" font-style="normal" fill="#262626" stroke="#262626" stroke-width="0.15">-20</text>
<line x1="414.60" y1="282.13" x2="416.60" y2="282.13" stroke="#222" stroke-width="0.8"/>
<text x="414.00" y="283.73" font-size="5.0" text-anchor="end" font-weight="normal" font-style="normal" fill="#262626" stroke="#262626" stroke-width="0.15">0</text>
<line x1="414.60" y1="260.47" x2="416.60" y2="260.47" stroke="#222" stroke-width="0.8"/>
<text x="414.00" y="262.07" font-size="5.0" text-anchor="end" font-weight="normal" font-style="normal" fill="#262626" stroke="#262626" stroke-width="0.15">20</text>
<line x1="414.60" y1="238.80" x2="416.60" y2="238.80" stroke="#222" stroke-width="0.8"/>
<text x="414.00" y="240.40" font-size="5.0" text-anchor="end" font-weight="normal" font-style="normal" fill="#262626" stroke="#262626" stroke-width="0.15">40</text>
<line x1="419.40" y1="303.80" x2="419.40" y2="305.80" stroke="#222" stroke-width="0.8"/>
<text x="419.40" y="311.80" font-size="5.0" text-anchor="middle" font-weight="normal" font-style="normal" fill="#262626" stroke="#262626" stroke-width="0.15">1</text>
<line x1="427.11" y1="303.80" x2="427.11" y2="305.80" stroke="#222" stroke-width="0.8"/>
<text x="427.11" y="311.80" font-size="5.0" text-anchor="middle" font-weight="normal" font-style="normal" fill="#262626" stroke="#262626" stroke-width="0.15">3</text>
<line x1="438.68" y1="303.80" x2="438.68" y2="305.80" stroke="#222" stroke-width="0.8"/>
<text x="438.68" y="311.80" font-size="5.0" text-anchor="middle" font-weight="normal" font-style="normal" fill="#262626" stroke="#262626" stroke-width="0.15">6</text>
<line x1="461.82" y1="303.80" x2="461.82" y2="305.80" stroke="#222" stroke-width="0.8"/>
<text x="461.82" y="311.80" font-size="5.0" text-anchor="middle" font-weight="normal" font-style="normal" fill="#262626" stroke="#262626" stroke-width="0.15">12</text>
<line x1="508.10" y1="303.80" x2="508.10" y2="305.80" stroke="#222" stroke-width="0.8"/>
<text x="508.10" y="311.80" font-size="5.0" text-anchor="middle" font-weight="normal" font-style="normal" fill="#262626" stroke="#262626" stroke-width="0.15">24</text>
<text x="465.60" y="320.80" font-size="6.2" text-anchor="middle" font-weight="bold" font-style="normal" fill="#000">Time (months)</text>
<text x="402.20" y="271.15" font-size="7.0" text-anchor="middle" font-weight="bold" font-style="normal" fill="#1e1e1e" transform="rotate(-90 402.20000000000005 271.15000000000003)">Effector CD8 T cells/ μL * month</text>
<polyline points="421.33,281.05 432.90,281.81 450.25,282.13 484.96,282.13" fill="none" stroke="#c82a3c" stroke-width="1.25" stroke-linejoin="round" stroke-linecap="round"/>
<circle cx="421.33" cy="281.05" r="2.35" fill="#e8101f"/>
<circle cx="432.90" cy="281.81" r="2.35" fill="#e8101f"/>
<circle cx="450.25" cy="282.13" r="2.35" fill="#e8101f"/>
<circle cx="484.96" cy="282.13" r="2.35" fill="#e8101f"/>
<polyline points="421.33,245.30 432.90,296.76 450.25,282.13 484.96,284.30" fill="none" stroke="#213a64" stroke-width="1.25" stroke-linejoin="round" stroke-linecap="round"/>
<circle cx="421.33" cy="245.30" r="2.35" fill="#132f64"/>
<circle cx="432.90" cy="296.76" r="2.35" fill="#132f64"/>
<circle cx="450.25" cy="282.13" r="2.35" fill="#132f64"/>
<circle cx="484.96" cy="284.30" r="2.35" fill="#132f64"/>
<text x="421.20" y="236.20" font-size="4.4" text-anchor="middle" font-weight="normal" font-style="italic" fill="#333" stroke="#333" stroke-width="0.1">p=</text>
<text x="421.20" y="241.50" font-size="4.4" text-anchor="middle" font-weight="normal" font-style="italic" fill="#333" stroke="#333" stroke-width="0.1">0.03</text>
<text x="432.00" y="236.20" font-size="4.4" text-anchor="middle" font-weight="normal" font-style="italic" fill="#333" stroke="#333" stroke-width="0.1">p=</text>
<text x="432.00" y="241.50" font-size="4.4" text-anchor="middle" font-weight="normal" font-style="italic" fill="#333" stroke="#333" stroke-width="0.1">0.05</text>
<text x="384.00" y="224.60" font-size="12.6" text-anchor="start" font-weight="bold" font-style="normal" fill="#000">L</text>
<line x1="467.00" y1="13.40" x2="474.00" y2="13.40" stroke="#e8101f" stroke-width="1.4"/>
<circle cx="470.60" cy="13.40" r="2.4" fill="#e8101f"/>
<text x="481.50" y="16.40" font-size="7.6" text-anchor="start" font-weight="bold" font-style="normal" fill="#000">CD127+</text>
<line x1="467.00" y1="24.60" x2="474.00" y2="24.60" stroke="#132f64" stroke-width="1.4"/>
<circle cx="470.60" cy="24.60" r="2.4" fill="#132f64"/>
<text x="481.50" y="27.60" font-size="7.6" text-anchor="start" font-weight="bold" font-style="normal" fill="#000">CD127-</text>
<line x1="33.20" y1="19.90" x2="33.20" y2="80.60" stroke="#222" stroke-width="1"/>
<line x1="32.70" y1="80.10" x2="123.40" y2="80.10" stroke="#222" stroke-width="1"/>
<line x1="31.20" y1="80.10" x2="33.20" y2="80.10" stroke="#222" stroke-width="0.8"/>
<text x="30.60" y="81.70" font-size="4.7" text-anchor="end" font-weight="normal" font-style="normal" fill="#555">-1.0</text>
<line x1="31.20" y1="65.17" x2="33.20" y2="65.17" stroke="#222" stroke-width="0.8"/>
<text x="30.60" y="66.77" font-size="4.7" text-anchor="end" font-weight="normal" font-style="normal" fill="#555">-0.5</text>
<line x1="31.20" y1="50.25" x2="33.20" y2="50.25" stroke="#222" stroke-width="0.8"/>
<text x="30.60" y="51.85" font-size="4.7" text-anchor="end" font-weight="normal" font-style="normal" fill="#555">0.0</text>
<line x1="31.20" y1="35.32" x2="33.20" y2="35.32" stroke="#222" stroke-width="0.8"/>
<text x="30.60" y="36.92" font-size="4.7" text-anchor="end" font-weight="normal" font-style="normal" fill="#555">0.5</text>
<line x1="31.20" y1="20.40" x2="33.20" y2="20.40" stroke="#222" stroke-width="0.8"/>
<text x="30.60" y="22.00" font-size="4.7" text-anchor="end" font-weight="normal" font-style="normal" fill="#555">1.0</text>
<line x1="33.50" y1="80.10" x2="33.50" y2="82.10" stroke="#222" stroke-width="0.8"/>
<text x="33.50" y="86.70" font-size="4.7" text-anchor="middle" font-weight="normal" font-style="normal" fill="#555">0</text>
<line x1="63.10" y1="80.10" x2="63.10" y2="82.10" stroke="#222" stroke-width="0.8"/>
<text x="63.10" y="86.70" font-size="4.7" text-anchor="middle" font-weight="normal" font-style="normal" fill="#555">100</text>
<line x1="92.70" y1="80.10" x2="92.70" y2="82.10" stroke="#222" stroke-width="0.8"/>
<text x="92.70" y="86.70" font-size="4.7" text-anchor="middle" font-weight="normal" font-style="normal" fill="#555">200</text>
<line x1="122.70" y1="80.10" x2="122.70" y2="82.10" stroke="#222" stroke-width="0.8"/>
<text x="122.70" y="86.70" font-size="4.7" text-anchor="middle" font-weight="normal" font-style="normal" fill="#555">300</text>
<text x="77.80" y="95.40" font-size="5.8" text-anchor="middle" font-weight="bold" font-style="normal" fill="#000">Time (days)</text>
<text x="18.60" y="51.05" font-size="6.4" text-anchor="middle" font-weight="bold" font-style="normal" fill="#000" transform="rotate(-90 18.6 51.05)">Correlation</text>
<text x="2.50" y="13.70" font-size="12.6" text-anchor="start" font-weight="bold" font-style="normal" fill="#000">A</text>
<line x1="33.20" y1="50.50" x2="123.00" y2="50.50" stroke="#e4e4e4" stroke-width="0.6"/>
<polyline points="33.50,40.40 34.38,40.39 35.53,40.38 36.92,40.36 38.47,40.34 40.15,40.32 41.89,40.30 43.65,40.29 45.36,40.28 46.97,40.29 48.44,40.31 49.70,40.34 50.70,40.40 51.46,40.48 52.05,40.57 52.49,40.68 52.80,40.80 53.02,40.93 53.18,41.07 53.28,41.22 53.36,41.38 53.45,41.53 53.57,41.69 53.74,41.85 54.00,42.00 54.25,42.16 54.42,42.33 54.53,42.52 54.61,42.71 54.71,42.91 54.83,43.10 55.02,43.29 55.31,43.47 55.72,43.63 56.28,43.78 57.03,43.90 58.00,44.00 59.14,44.07 60.38,44.12 61.74,44.15 63.22,44.17 64.83,44.17 66.56,44.16 68.43,44.14 70.44,44.11 72.60,44.08 74.91,44.05 77.37,44.02 80.00,44.00 82.98,43.97 86.45,43.94 90.28,43.90 94.37,43.85 98.61,43.80 102.88,43.75 107.07,43.70 111.07,43.65 114.78,43.60 118.08,43.56 120.86,43.53 123.00,43.50" fill="none" stroke="#3030a0" stroke-width="0.9" stroke-linejoin="round" stroke-linecap="round" stroke-dasharray="1.6,1"/>
<polyline points="33.50,62.00 34.37,61.99 35.52,61.97 36.89,61.95 38.44,61.92 40.10,61.89 41.83,61.86 43.58,61.84 45.29,61.84 46.90,61.85 48.38,61.87 49.66,61.92 50.70,62.00 51.50,62.11 52.13,62.26 52.62,62.44 52.99,62.63 53.27,62.85 53.49,63.07 53.67,63.29 53.84,63.51 54.04,63.72 54.28,63.91 54.59,64.07 55.00,64.20 55.32,64.30 55.39,64.38 55.29,64.45 55.13,64.50 54.99,64.54 54.96,64.57 55.12,64.59 55.57,64.61 56.39,64.63 57.68,64.65 59.52,64.67 62.00,64.70 65.39,64.73 69.75,64.77 74.88,64.80 80.59,64.83 86.68,64.85 92.94,64.88 99.17,64.91 105.19,64.93 110.77,64.95 115.74,64.97 119.88,64.99 123.00,65.00" fill="none" stroke="#3030a0" stroke-width="0.9" stroke-linejoin="round" stroke-linecap="round" stroke-dasharray="1.6,1"/>
<polyline points="33.50,52.50 34.06,52.31 34.78,52.09 35.62,51.84 36.57,51.55 37.60,51.23 38.69,50.89 39.80,50.53 40.93,50.15 42.03,49.76 43.09,49.35 44.09,48.93 45.00,48.50 45.83,48.05 46.62,47.56 47.38,47.04 48.11,46.50 48.83,45.94 49.53,45.37 50.23,44.80 50.94,44.24 51.67,43.69 52.41,43.16 53.19,42.66 54.00,42.20 54.85,41.77 55.73,41.35 56.63,40.94 57.56,40.55 58.49,40.17 59.44,39.81 60.39,39.46 61.33,39.12 62.27,38.79 63.20,38.48 64.11,38.19 65.00,37.90 65.86,37.63 66.68,37.38 67.48,37.15 68.27,36.93 69.05,36.72 69.83,36.52 70.61,36.34 71.42,36.16 72.26,35.99 73.12,35.83 74.04,35.66 75.00,35.50 76.01,35.34 77.05,35.17 78.13,35.01 79.23,34.85 80.36,34.69 81.51,34.55 82.69,34.42 83.88,34.30 85.09,34.19 86.32,34.11 87.55,34.04 88.80,34.00 90.06,33.98 91.34,33.99 92.64,34.01 93.96,34.06 95.29,34.11 96.64,34.19 98.00,34.27 99.38,34.37 100.77,34.47 102.17,34.58 103.58,34.69 105.00,34.80 106.49,34.93 108.10,35.08 109.80,35.24 111.53,35.42 113.28,35.61 115.01,35.80 116.68,35.99 118.27,36.17 119.72,36.33 121.02,36.48 122.12,36.60 123.00,36.70" fill="none" stroke="#dc6060" stroke-width="0.8" stroke-linejoin="round" stroke-linecap="round" stroke-dasharray="1.6,1"/>
<polyline points="33.50,70.70 34.07,70.63 34.80,70.56 35.67,70.48 36.65,70.40 37.70,70.30 38.81,70.19 39.95,70.06 41.07,69.93 42.17,69.77 43.21,69.60 44.16,69.41 45.00,69.20 45.75,68.96 46.47,68.68 47.16,68.38 47.81,68.05 48.44,67.70 49.03,67.35 49.59,66.99 50.13,66.64 50.64,66.30 51.12,65.97 51.57,65.67 52.00,65.40 52.37,65.16 52.65,64.94 52.87,64.74 53.04,64.55 53.18,64.38 53.31,64.21 53.46,64.04 53.63,63.87 53.85,63.70 54.14,63.51 54.52,63.31 55.00,63.10 55.59,62.87 56.26,62.63 57.01,62.38 57.81,62.13 58.67,61.87 59.56,61.60 60.48,61.33 61.41,61.06 62.34,60.79 63.25,60.53 64.14,60.26 65.00,60.00 65.82,59.73 66.61,59.46 67.38,59.17 68.15,58.88 68.91,58.59 69.69,58.30 70.48,58.02 71.30,57.76 72.15,57.51 73.04,57.28 73.99,57.07 75.00,56.90 76.07,56.75 77.21,56.63 78.40,56.53 79.63,56.45 80.90,56.39 82.19,56.34 83.50,56.30 84.81,56.27 86.13,56.25 87.44,56.23 88.73,56.22 90.00,56.20 91.24,56.19 92.47,56.17 93.68,56.17 94.89,56.17 96.10,56.18 97.31,56.19 98.54,56.22 99.78,56.25 101.04,56.30 102.33,56.35 103.64,56.42 105.00,56.50 106.45,56.60 108.03,56.73 109.71,56.89 111.44,57.06 113.20,57.23 114.94,57.42 116.62,57.60 118.22,57.78 119.70,57.94 121.01,58.09 122.12,58.21 123.00,58.30" fill="none" stroke="#dc6060" stroke-width="0.8" stroke-linejoin="round" stroke-linecap="round" stroke-dasharray="1.6,1"/>
<polyline points="33.50,62.90 34.08,62.79 34.83,62.64 35.72,62.48 36.72,62.30 37.81,62.10 38.94,61.88 40.09,61.66 41.22,61.43 42.31,61.19 43.33,60.96 44.23,60.73 45.00,60.50 45.65,60.28 46.23,60.06 46.74,59.84 47.20,59.62 47.62,59.40 48.00,59.17 48.35,58.93 48.69,58.69 49.01,58.44 49.33,58.17 49.66,57.89 50.00,57.60 50.34,57.29 50.67,56.95 50.98,56.60 51.28,56.24 51.56,55.86 51.84,55.48 52.12,55.10 52.39,54.72 52.66,54.34 52.93,53.98 53.21,53.63 53.50,53.30 53.78,52.98 54.03,52.67 54.27,52.37 54.50,52.07 54.73,51.78 54.97,51.49 55.22,51.21 55.50,50.94 55.81,50.67 56.16,50.41 56.55,50.15 57.00,49.90 57.51,49.65 58.08,49.41 58.71,49.17 59.37,48.94 60.06,48.71 60.78,48.49 61.51,48.28 62.24,48.07 62.96,47.87 63.67,47.67 64.35,47.48 65.00,47.30 65.62,47.13 66.21,46.96 66.80,46.81 67.37,46.66 67.94,46.52 68.50,46.38 69.06,46.25 69.63,46.12 70.20,45.99 70.79,45.86 71.38,45.73 72.00,45.60 72.63,45.47 73.28,45.33 73.93,45.19 74.59,45.05 75.26,44.92 75.94,44.78 76.62,44.65 77.30,44.53 77.98,44.41 78.66,44.30 79.33,44.19 80.00,44.10 80.67,44.02 81.33,43.94 82.00,43.88 82.67,43.82 83.33,43.77 84.00,43.72 84.67,43.68 85.33,43.64 86.00,43.60 86.67,43.57 87.33,43.53 88.00,43.50 88.66,43.47 89.32,43.43 89.98,43.40 90.63,43.37 91.28,43.34 91.94,43.32 92.60,43.30 93.26,43.29 93.93,43.28 94.61,43.28 95.30,43.28 96.00,43.30 96.71,43.32 97.43,43.36 98.16,43.39 98.89,43.44 99.63,43.49 100.38,43.54 101.13,43.61 101.89,43.67 102.66,43.75 103.43,43.83 104.21,43.91 105.00,44.00 105.80,44.10 106.63,44.20 107.48,44.32 108.33,44.44 109.20,44.56 110.06,44.69 110.92,44.83 111.78,44.96 112.62,45.10 113.44,45.23 114.23,45.37 115.00,45.50 115.76,45.63 116.54,45.78 117.33,45.93 118.11,46.09 118.88,46.24 119.62,46.39 120.34,46.54 121.00,46.68 121.61,46.81 122.15,46.92 122.62,47.02 123.00,47.10" fill="none" stroke="#d42a2c" stroke-width="1.6" stroke-linejoin="round" stroke-linecap="round"/>
<polyline points="33.50,51.80 34.08,51.77 34.83,51.74 35.72,51.70 36.72,51.65 37.81,51.60 38.94,51.55 40.09,51.50 41.22,51.45 42.31,51.40 43.33,51.36 44.23,51.33 45.00,51.30 45.65,51.28 46.22,51.25 46.73,51.22 47.19,51.19 47.59,51.16 47.97,51.14 48.32,51.13 48.65,51.13 48.97,51.15 49.30,51.18 49.64,51.23 50.00,51.30 50.37,51.40 50.74,51.52 51.09,51.67 51.44,51.84 51.79,52.02 52.12,52.21 52.45,52.41 52.78,52.60 53.09,52.80 53.40,52.98 53.70,53.15 54.00,53.30 54.27,53.44 54.50,53.58 54.70,53.71 54.89,53.84 55.07,53.97 55.25,54.09 55.45,54.21 55.67,54.32 55.92,54.43 56.22,54.53 56.58,54.62 57.00,54.70 57.41,54.77 57.73,54.84 58.02,54.90 58.30,54.94 58.61,54.99 59.00,55.03 59.50,55.06 60.15,55.09 60.98,55.12 62.05,55.14 63.37,55.17 65.00,55.20 67.01,55.23 69.41,55.26 72.13,55.30 75.11,55.33 78.28,55.37 81.56,55.39 84.90,55.42 88.22,55.43 91.46,55.44 94.55,55.44 97.42,55.43 100.00,55.40 102.41,55.36 104.79,55.29 107.13,55.21 109.41,55.12 111.60,55.02 113.69,54.91 115.65,54.81 117.48,54.70 119.15,54.61 120.64,54.52 121.93,54.45 123.00,54.40" fill="none" stroke="#2a20a4" stroke-width="1.7" stroke-linejoin="round" stroke-linecap="round"/>
<line x1="44.20" y1="10.80" x2="51.10" y2="10.80" stroke="#d84850" stroke-width="1.6"/>
<line x1="44.20" y1="19.20" x2="51.10" y2="19.20" stroke="#3c3cb8" stroke-width="1.6"/>
<text x="54.20" y="13.20" font-size="6.45" text-anchor="start" font-weight="bold" font-style="normal" fill="#000" stroke="#000" stroke-width="0.1">CD3+127+ T cells/μL</text>
<text x="54.20" y="21.60" font-size="6.45" text-anchor="start" font-weight="bold" font-style="normal" fill="#000" stroke="#000" stroke-width="0.1">CD3+127- T cells/μL</text>
<line x1="161.50" y1="22.40" x2="161.50" y2="80.90" stroke="#222" stroke-width="1"/>
<line x1="161.00" y1="80.40" x2="247.70" y2="80.40" stroke="#222" stroke-width="1"/>
<line x1="159.50" y1="80.40" x2="161.50" y2="80.40" stroke="#222" stroke-width="0.8"/>
<text x="158.90" y="82.00" font-size="4.7" text-anchor="end" font-weight="normal" font-style="normal" fill="#555">-1.0</text>
<line x1="159.50" y1="66.03" x2="161.50" y2="66.03" stroke="#222" stroke-width="0.8"/>
<text x="158.90" y="67.62" font-size="4.7" text-anchor="end" font-weight="normal" font-style="normal" fill="#555">-0.5</text>
<line x1="159.50" y1="51.65" x2="161.50" y2="51.65" stroke="#222" stroke-width="0.8"/>
<text x="158.90" y="53.25" font-size="4.7" text-anchor="end" font-weight="normal" font-style="normal" fill="#555">0.0</text>
<line x1="159.50" y1="37.27" x2="161.50" y2="37.27" stroke="#222" stroke-width="0.8"/>
<text x="158.90" y="38.88" font-size="4.7" text-anchor="end" font-weight="normal" font-style="normal" fill="#555">0.5</text>
<line x1="159.50" y1="22.90" x2="161.50" y2="22.90" stroke="#222" stroke-width="0.8"/>
<text x="158.90" y="24.50" font-size="4.7" text-anchor="end" font-weight="normal" font-style="normal" fill="#555">1.0</text>
<line x1="162.30" y1="80.40" x2="162.30" y2="82.40" stroke="#222" stroke-width="0.8"/>
<text x="162.30" y="87.00" font-size="4.7" text-anchor="middle" font-weight="normal" font-style="normal" fill="#555">0</text>
<line x1="183.80" y1="80.40" x2="183.80" y2="82.40" stroke="#222" stroke-width="0.8"/>
<text x="183.80" y="87.00" font-size="4.7" text-anchor="middle" font-weight="normal" font-style="normal" fill="#555">50</text>
<line x1="205.40" y1="80.40" x2="205.40" y2="82.40" stroke="#222" stroke-width="0.8"/>
<text x="205.40" y="87.00" font-size="4.7" text-anchor="middle" font-weight="normal" font-style="normal" fill="#555">100</text>
<line x1="226.60" y1="80.40" x2="226.60" y2="82.40" stroke="#222" stroke-width="0.8"/>
<text x="226.60" y="87.00" font-size="4.7" text-anchor="middle" font-weight="normal" font-style="normal" fill="#555">150</text>
<line x1="247.30" y1="80.40" x2="247.30" y2="82.40" stroke="#222" stroke-width="0.8"/>
<text x="247.30" y="87.00" font-size="4.7" text-anchor="middle" font-weight="normal" font-style="normal" fill="#555">200</text>
<text x="204.10" y="95.70" font-size="5.8" text-anchor="middle" font-weight="bold" font-style="normal" fill="#000">Time (days)</text>
<text x="148.30" y="51.95" font-size="6.4" text-anchor="middle" font-weight="bold" font-style="normal" fill="#000" transform="rotate(-90 148.3 51.95)">Correlation</text>
<text x="129.00" y="13.70" font-size="12.6" text-anchor="start" font-weight="bold" font-style="normal" fill="#000">B</text>
<line x1="239.00" y1="52.00" x2="247.50" y2="52.00" stroke="#d8d8d8" stroke-width="0.6"/>
<polyline points="162.00,45.70 163.88,45.65 166.28,45.60 169.13,45.55 172.33,45.49 175.80,45.42 179.44,45.34 183.16,45.26 186.89,45.16 190.52,45.04 193.98,44.91 197.17,44.77 200.00,44.60 202.57,44.40 205.05,44.14 207.42,43.85 209.70,43.53 211.90,43.20 214.00,42.86 216.02,42.54 217.96,42.24 219.83,41.97 221.62,41.75 223.34,41.59 225.00,41.50 226.60,41.49 228.13,41.55 229.60,41.67 231.00,41.83 232.32,42.03 233.56,42.26 234.72,42.49 235.78,42.72 236.74,42.94 237.60,43.14 238.36,43.29 239.00,43.40" fill="none" stroke="#5a8a5a" stroke-width="0.8" stroke-linejoin="round" stroke-linecap="round" stroke-dasharray="1.6,1"/>
<polyline points="162.00,66.10 163.83,65.99 166.12,65.85 168.80,65.69 171.81,65.50 175.09,65.30 178.56,65.09 182.17,64.87 185.85,64.66 189.54,64.45 193.17,64.25 196.68,64.06 200.00,63.90 203.34,63.75 206.89,63.60 210.59,63.46 214.37,63.32 218.15,63.19 221.88,63.06 225.46,62.94 228.85,62.83 231.97,62.73 234.75,62.64 237.11,62.57 239.00,62.50" fill="none" stroke="#5a8a5a" stroke-width="0.8" stroke-linejoin="round" stroke-linecap="round" stroke-dasharray="1.6,1"/>
<polyline points="162.00,52.10 162.42,51.93 162.95,51.74 163.57,51.51 164.26,51.26 165.01,50.99 165.81,50.69 166.64,50.36 167.49,50.01 168.33,49.64 169.16,49.25 169.95,48.84 170.70,48.40 171.42,47.93 172.15,47.41 172.88,46.85 173.61,46.27 174.35,45.66 175.07,45.03 175.80,44.40 176.52,43.77 177.23,43.14 177.93,42.54 178.62,41.95 179.30,41.40 179.96,40.86 180.61,40.30 181.24,39.73 181.86,39.16 182.47,38.60 183.08,38.06 183.68,37.54 184.29,37.06 184.90,36.61 185.52,36.22 186.15,35.88 186.80,35.60 187.45,35.40 188.11,35.26 188.76,35.19 189.41,35.16 190.08,35.18 190.74,35.23 191.42,35.29 192.11,35.37 192.81,35.45 193.52,35.52 194.25,35.57 195.00,35.60 195.74,35.61 196.44,35.62 197.13,35.62 197.82,35.63 198.52,35.64 199.24,35.66 200.01,35.67 200.84,35.69 201.73,35.71 202.72,35.74 203.80,35.77 205.00,35.80 206.35,35.82 207.86,35.82 209.51,35.80 211.25,35.78 213.06,35.76 214.92,35.76 216.79,35.77 218.64,35.82 220.45,35.91 222.18,36.04 223.81,36.24 225.30,36.50 226.72,36.86 228.12,37.32 229.51,37.87 230.86,38.48 232.17,39.13 233.42,39.79 234.60,40.46 235.69,41.10 236.69,41.70 237.59,42.23 238.36,42.67 239.00,43.00" fill="none" stroke="#d84848" stroke-width="0.8" stroke-linejoin="round" stroke-linecap="round" stroke-dasharray="1.6,1"/>
<polyline points="162.00,71.00 162.14,70.92 162.29,70.84 162.44,70.74 162.61,70.64 162.81,70.52 163.04,70.39 163.30,70.24 163.61,70.09 163.96,69.91 164.38,69.72 164.85,69.52 165.40,69.30 166.04,69.06 166.77,68.81 167.59,68.54 168.47,68.26 169.40,67.97 170.37,67.66 171.35,67.33 172.34,66.99 173.31,66.64 174.26,66.27 175.16,65.89 176.00,65.50 176.81,65.07 177.62,64.61 178.44,64.10 179.24,63.58 180.03,63.04 180.81,62.49 181.55,61.96 182.27,61.43 182.95,60.94 183.58,60.48 184.17,60.06 184.70,59.70 185.12,59.40 185.40,59.14 185.58,58.92 185.69,58.73 185.76,58.57 185.83,58.43 185.93,58.30 186.09,58.18 186.34,58.05 186.72,57.92 187.26,57.77 188.00,57.60 188.93,57.41 190.01,57.20 191.22,56.98 192.54,56.75 193.96,56.52 195.46,56.30 197.01,56.08 198.60,55.88 200.22,55.70 201.83,55.54 203.43,55.40 205.00,55.30 206.58,55.21 208.23,55.11 209.93,55.02 211.67,54.93 213.42,54.87 215.19,54.82 216.94,54.82 218.67,54.86 220.35,54.94 221.98,55.09 223.53,55.31 225.00,55.60 226.42,56.01 227.84,56.54 229.25,57.19 230.63,57.90 231.97,58.67 233.25,59.47 234.46,60.26 235.59,61.03 236.62,61.74 237.55,62.38 238.34,62.90 239.00,63.30" fill="none" stroke="#d84848" stroke-width="0.8" stroke-linejoin="round" stroke-linecap="round" stroke-dasharray="1.6,1"/>
<polyline points="162.00,54.50 163.88,54.39 166.28,54.24 169.13,54.07 172.33,53.87 175.80,53.66 179.44,53.44 183.16,53.22 186.89,53.00 190.52,52.80 193.98,52.61 197.17,52.44 200.00,52.30 202.57,52.18 205.05,52.08 207.42,51.98 209.70,51.90 211.90,51.83 214.00,51.76 216.02,51.71 217.96,51.67 219.83,51.63 221.62,51.61 223.34,51.60 225.00,51.60 226.60,51.62 228.13,51.66 229.60,51.71 231.00,51.79 232.32,51.87 233.56,51.96 234.72,52.05 235.78,52.14 236.74,52.22 237.60,52.30 238.36,52.36 239.00,52.40" fill="none" stroke="#94ea98" stroke-width="2.7" stroke-linejoin="round" stroke-linecap="round"/>
<polyline points="162.00,56.40 163.83,56.35 166.12,56.29 168.80,56.22 171.81,56.14 175.09,56.06 178.56,55.96 182.17,55.86 185.85,55.75 189.54,55.63 193.17,55.49 196.68,55.35 200.00,55.20 203.34,55.02 206.89,54.82 210.59,54.59 214.37,54.34 218.15,54.08 221.88,53.83 225.46,53.57 228.85,53.33 231.97,53.10 234.75,52.90 237.11,52.73 239.00,52.60" fill="none" stroke="#151515" stroke-width="1.3" stroke-linejoin="round" stroke-linecap="round"/>
<polyline points="162.00,63.10 162.33,62.98 162.74,62.84 163.24,62.66 163.80,62.47 164.40,62.25 165.03,62.03 165.68,61.80 166.33,61.57 166.96,61.34 167.56,61.11 168.11,60.90 168.60,60.70 169.04,60.52 169.45,60.35 169.84,60.18 170.21,60.02 170.56,59.86 170.90,59.70 171.23,59.54 171.56,59.37 171.89,59.20 172.22,59.01 172.55,58.81 172.90,58.60 173.25,58.38 173.60,58.16 173.95,57.93 174.30,57.70 174.65,57.46 175.00,57.21 175.35,56.94 175.70,56.67 176.05,56.38 176.40,56.07 176.75,55.75 177.10,55.40 177.46,55.02 177.82,54.61 178.18,54.18 178.54,53.72 178.91,53.25 179.28,52.77 179.64,52.28 180.00,51.80 180.36,51.32 180.71,50.86 181.06,50.42 181.40,50.00 181.74,49.60 182.07,49.19 182.41,48.79 182.74,48.40 183.07,48.01 183.39,47.63 183.71,47.27 184.03,46.91 184.33,46.58 184.63,46.27 184.92,45.97 185.20,45.70 185.45,45.45 185.68,45.22 185.87,45.01 186.05,44.81 186.22,44.64 186.40,44.48 186.59,44.33 186.79,44.20 187.03,44.08 187.30,43.97 187.62,43.88 188.00,43.80 188.43,43.74 188.89,43.70 189.38,43.68 189.91,43.67 190.47,43.68 191.05,43.71 191.66,43.74 192.29,43.77 192.94,43.81 193.61,43.84 194.30,43.87 195.00,43.90 195.71,43.92 196.41,43.95 197.12,43.98 197.85,44.01 198.60,44.05 199.38,44.08 200.19,44.12 201.04,44.16 201.94,44.19 202.89,44.23 203.91,44.27 205.00,44.30 206.21,44.33 207.56,44.35 209.02,44.37 210.56,44.38 212.14,44.40 213.75,44.41 215.34,44.43 216.89,44.46 218.36,44.50 219.72,44.55 220.95,44.62 222.00,44.70 222.87,44.79 223.58,44.86 224.16,44.93 224.63,45.01 225.03,45.10 225.38,45.20 225.70,45.32 226.04,45.48 226.41,45.67 226.84,45.89 227.36,46.17 228.00,46.50 228.78,46.91 229.67,47.42 230.66,48.01 231.70,48.65 232.79,49.32 233.88,50.01 234.94,50.70 235.96,51.35 236.91,51.96 237.75,52.50 238.45,52.96 239.00,53.30" fill="none" stroke="#c81c22" stroke-width="1.35" stroke-linejoin="round" stroke-linecap="round"/>
<line x1="177.40" y1="9.10" x2="184.10" y2="9.10" stroke="#111" stroke-width="1.5"/>
<line x1="177.40" y1="16.20" x2="184.10" y2="16.20" stroke="#c82838" stroke-width="1.5"/>
<line x1="177.40" y1="23.20" x2="184.10" y2="23.20" stroke="#8ade8e" stroke-width="1.5"/>
<text x="187.50" y="11.50" font-size="6.05" text-anchor="start" font-weight="bold" font-style="normal" fill="#000" stroke="#000" stroke-width="0.12">CD3 T cells/μL</text>
<text x="187.50" y="18.40" font-size="6.05" text-anchor="start" font-weight="bold" font-style="normal" fill="#000" stroke="#000" stroke-width="0.12">CD4 T cells/μL</text>
<text x="187.50" y="25.40" font-size="6.05" text-anchor="start" font-weight="bold" font-style="normal" fill="#000" stroke="#000" stroke-width="0.12">CD8 T cells/μL</text>
</svg></body></html>
